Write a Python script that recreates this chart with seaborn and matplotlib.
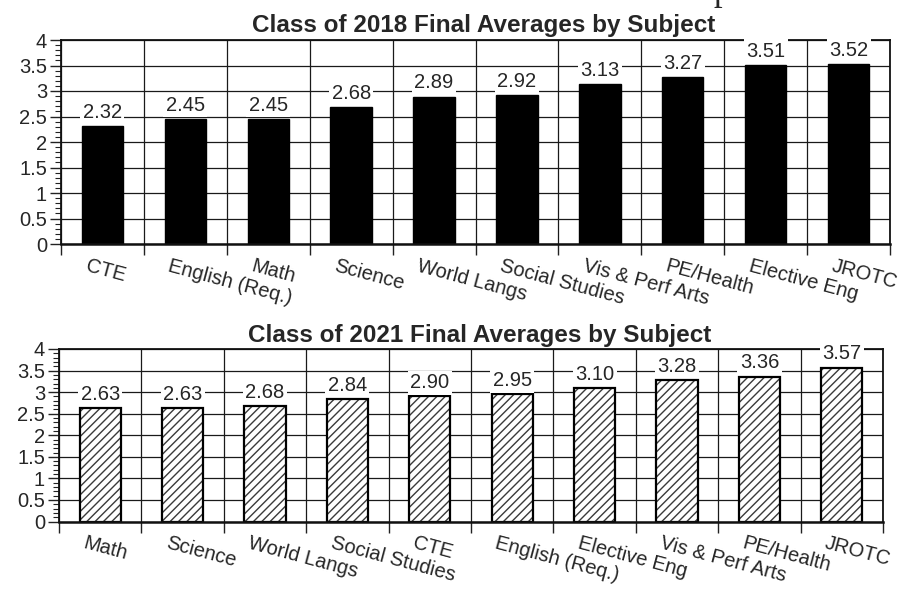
import matplotlib
matplotlib.use("Agg")
import matplotlib.pyplot as plt
import matplotlib.colors as mcolors
import matplotlib.transforms as mtrans
from matplotlib.ticker import FixedLocator, MultipleLocator, NullFormatter
import seaborn as sns
import pandas as pd
import numpy as np

# ---------------- data ----------------
subjects_2018 = ["CTE", "English (Req.)", "Math", "Science", "World Langs",
                 "Social Studies", "Vis & Perf Arts", "PE/Health",
                 "Elective Eng", "JROTC"]
averages_2018 = [2.32, 2.45, 2.45, 2.68, 2.89, 2.92, 3.13, 3.27, 3.51, 3.52]

subjects_2021 = ["Math", "Science", "World Langs", "Social Studies", "CTE",
                 "English (Req.)", "Elective Eng", "Vis & Perf Arts",
                 "PE/Health", "JROTC"]
averages_2021 = [2.63, 2.63, 2.68, 2.84, 2.90, 2.95, 3.10, 3.28, 3.36, 3.57]

title_2018 = "Class of 2018 Final Averages by Subject"
title_2021 = "Class of 2021 Final Averages by Subject"
y_ticks = [0, 0.5, 1, 1.5, 2, 2.5, 3, 3.5, 4]
y_tick_labels = ["0", "0.5", "1", "1.5", "2", "2.5", "3", "3.5", "4"]

# ---------------- style ----------------
sns.set_style("white")
plt.rcParams["font.family"] = ["Liberation Sans", "DejaVu Sans"]
plt.rcParams["hatch.linewidth"] = 1.0

DPI = 100
fig = plt.figure(figsize=(9, 6), dpi=DPI)
fig.patch.set_facecolor("white")

ax1 = fig.add_axes([61 / 900, 1 - 244 / 600, 829 / 900, 204 / 600])
ax2 = fig.add_axes([59 / 900, 1 - 521.5 / 600, 824 / 900, 172.5 / 600])

df18 = pd.DataFrame({"Subject": subjects_2018, "Average": averages_2018})
df21 = pd.DataFrame({"Subject": subjects_2021, "Average": averages_2021})

sns.barplot(data=df18, x="Subject", y="Average", order=subjects_2018,
            color="black", saturation=1, width=0.5, errorbar=None, ax=ax1,
            edgecolor="black", linewidth=1.0)
sns.barplot(data=df21, x="Subject", y="Average", order=subjects_2021,
            color="white", saturation=1, width=0.5, errorbar=None, ax=ax2,
            edgecolor="black", linewidth=1.6, hatch="////")

hatch_rgba = mcolors.to_rgba("#3a3a3a")
for p in ax2.patches:
    if hasattr(p, "set_hatchcolor"):
        p.set_hatchcolor(hatch_rgba)
    else:
        p._hatch_color = hatch_rgba

FS = 14.5


def style_axis(ax, labels, values):
    n = len(labels)
    ax.set_xlabel("")
    ax.set_ylabel("")
    ax.set_xlim(-0.5, n - 0.5)
    ax.set_ylim(0, 4)
    # x: boundaries as major (grid + tick marks), centers as minor (labels)
    ax.xaxis.set_major_locator(FixedLocator(np.arange(-0.5, n, 1.0)))
    ax.xaxis.set_major_formatter(NullFormatter())
    ax.xaxis.set_minor_locator(FixedLocator(np.arange(n)))
    ax.set_xticks(np.arange(n), labels, minor=True)
    ax.tick_params(axis="x", which="major", direction="out", length=8,
                   width=1.0, color="#222222", bottom=True)
    ax.tick_params(axis="x", which="minor", length=0, pad=9,
                   labelsize=FS, bottom=True)
    # y
    ax.set_yticks(y_ticks, y_tick_labels)
    ax.yaxis.set_minor_locator(MultipleLocator(0.1))
    ax.tick_params(axis="y", which="major", direction="out", length=8,
                   width=1.0, labelsize=FS, pad=2, left=True,
                   color="#222222")
    ax.tick_params(axis="y", which="minor", direction="out", length=4.5,
                   width=0.8, left=True, color="#222222")
    ax.set_axisbelow(True)
    ax.grid(True, which="major", axis="both", color="#1a1a1a",
            linewidth=0.9)
    for s in ax.spines.values():
        s.set_visible(True)
        s.set_color("#111111")
        s.set_linewidth(1.3)
    ax.spines["bottom"].set_linewidth(1.8)

    # value labels with white masking box
    ax.bar_label(ax.containers[0], labels=[f"{v:.2f}" for v in values],
                 padding=3, fontsize=FS,
                 bbox=dict(boxstyle="square,pad=0.12", fc="white",
                           ec="none"), zorder=4)

    # rotated category labels, anchored at upper-left
    offset = mtrans.ScaledTranslation(-14 / DPI, 0, fig.dpi_scale_trans)
    ticks = ax.xaxis.get_minor_ticks()
    for t in ticks:
        lbl = t.label1
        lbl.set_rotation(-15)
        lbl.set_rotation_mode("anchor")
        lbl.set_ha("left")
        lbl.set_va("top")
        lbl.set_transform(lbl.get_transform() + offset)


style_axis(ax1, subjects_2018, averages_2018)
style_axis(ax2, subjects_2021, averages_2021)

fig.text(484 / 900, 1 - 32 / 600, title_2018, ha="center", va="baseline",
         fontsize=17.5, fontweight="bold")
fig.text(480 / 900, 1 - 342 / 600, title_2021, ha="center", va="baseline",
         fontsize=17.5, fontweight="bold")

# cropped descender of a larger heading letter at the very top
fig.text(713 / 900, 1.0, "p", ha="left", va="baseline", fontsize=25,
         family=["Liberation Serif", "DejaVu Serif"])

fig.savefig("out.png", dpi=DPI, facecolor="white")
